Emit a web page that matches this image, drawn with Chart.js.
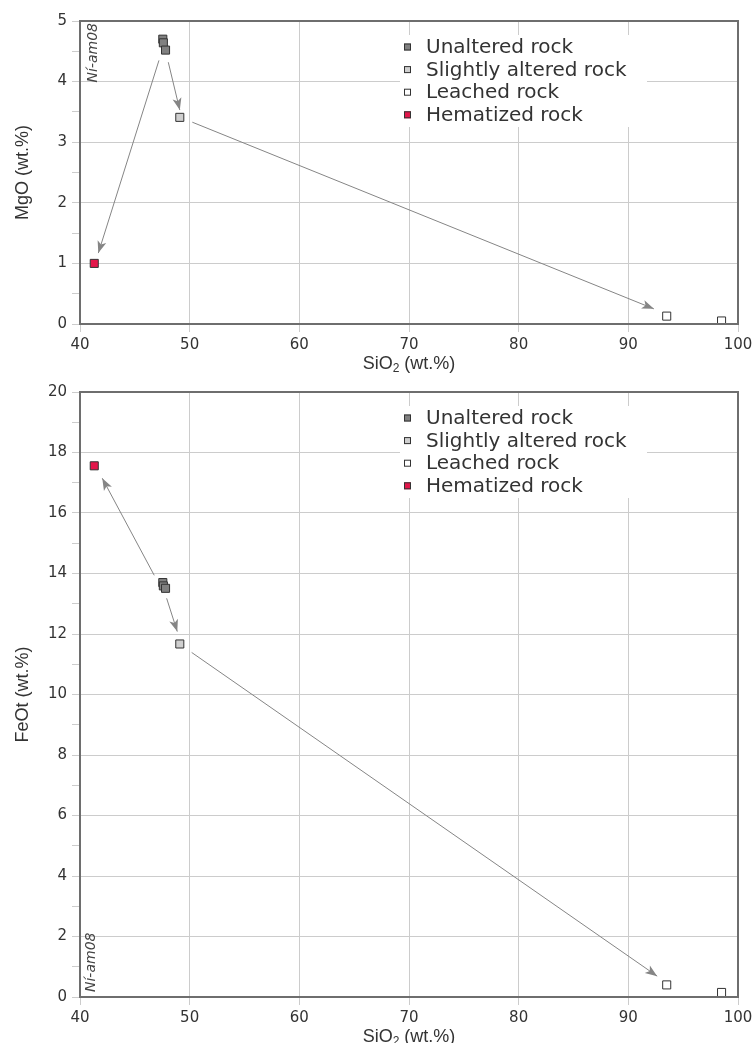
<!DOCTYPE html>
<html>
<head>
<meta charset="utf-8">
<title>MgO and FeOt vs SiO2</title>
<script src="https://cdn.jsdelivr.net/npm/chart.js@4.4.1/dist/chart.umd.min.js"></script>
<style>
  html, body { margin: 0; padding: 0; background: #fff; overflow: hidden; }
  canvas { display: block; }
</style>
</head>
<body>
<canvas id="mgoChart" width="753" height="380"></canvas>
<canvas id="feotChart" width="753" height="673"></canvas>
<script>
// SiO2 (wt.%) of each rock group, shared by both diagrams
const sio2Unaltered = [47.55, 47.6, 47.8];
const sio2Slightly = [49.1];
const sio2Leached = [93.5, 98.5];
const sio2Hematized = [41.3];

// MgO (wt.%)
const mgoUnaltered = [4.70, 4.64, 4.52];
const mgoSlightly = [3.41];
const mgoLeached = [0.13, 0.05];
const mgoHematized = [1.00];

// FeOt (wt.%)
const feotUnaltered = [13.70, 13.59, 13.51];
const feotSlightly = [11.67];
const feotLeached = [0.40, 0.15];
const feotHematized = [17.56];

// alteration arrows: [fromSiO2, fromValue, toSiO2, toValue]
const mgoArrows = [[47.2, 4.35, 41.67, 1.17], [48.05, 4.32, 49.1, 3.53], [50.24, 3.33, 92.33, 0.25]];
const feotArrows = [[46.77, 13.94, 42.03, 17.15], [47.9, 13.18, 48.87, 12.08], [50.18, 11.39, 92.63, 0.69]];

const rockLabels = ['Unaltered rock', 'Slightly altered rock', 'Leached rock', 'Hematized rock'];
const rockColors = ['#808080', '#cfcfcf', '#ffffff', '#e3164a'];
const sampleName = 'Ní-am08';

const gridGray = '#cccccc';
const frameGray = '#6e6e6e';
const textGray = '#333333';

function buildDatasets(yGroups, arrows) {
  const xGroups = [sio2Unaltered, sio2Slightly, sio2Leached, sio2Hematized];
  const sets = rockLabels.map((label, i) => ({
    label: label,
    data: xGroups[i].map((x, j) => ({ x: x, y: yGroups[i][j] })),
    pointStyle: 'rect',
    pointRadius: 5.7,
    pointHoverRadius: 5.7,
    backgroundColor: rockColors[i],
    borderColor: '#333',
    borderWidth: 1,
    order: 1,
  }));
  arrows.forEach((a) => {
    sets.push({
      label: '',
      isArrow: true,
      showLine: true,
      data: [{ x: a[0], y: a[1] }, { x: a[2], y: a[3] }],
      borderColor: '#858585',
      backgroundColor: '#858585',
      borderWidth: 1,
      pointRadius: 0,
      pointHoverRadius: 0,
      order: 2,
    });
  });
  return sets;
}

// filled arrow head at the end of each arrow dataset
const arrowHeads = {
  id: 'arrowHeads',
  afterDatasetsDraw(chart) {
    const ctx = chart.ctx;
    chart.data.datasets.forEach((ds, i) => {
      if (!ds.isArrow) return;
      const pts = chart.getDatasetMeta(i).data;
      const a = pts[0], b = pts[1];
      const ang = Math.atan2(b.y - a.y, b.x - a.x);
      ctx.save();
      ctx.translate(b.x, b.y);
      ctx.rotate(ang);
      ctx.beginPath();
      ctx.moveTo(0, 0);
      ctx.lineTo(-12, -4.5);
      ctx.lineTo(-9, 0);
      ctx.lineTo(-12, 4.5);
      ctx.closePath();
      ctx.fillStyle = ds.borderColor;
      ctx.fill();
      ctx.restore();
    });
  }
};

// frame, legend box, x title with subscript and sample label
const decorations = {
  id: 'decorations',
  afterDraw(chart, args, opts) {
    const ctx = chart.ctx;
    const area = chart.chartArea;

    ctx.save();
    ctx.strokeStyle = frameGray;
    ctx.lineWidth = 2;
    ctx.strokeRect(area.left, area.top, area.right - area.left, area.bottom - area.top);

    // legend
    const rows = chart.data.datasets.filter((ds) => !ds.isArrow);
    const top = area.top + 14;
    const rowH = 22.6;
    ctx.fillStyle = '#fff';
    ctx.fillRect(400, top, 247, rows.length * rowH + 1.6);
    ctx.font = '20px "DejaVu Sans"';
    ctx.textBaseline = 'middle';
    ctx.textAlign = 'left';
    rows.forEach((ds, i) => {
      const cy = top + 12 + i * rowH;
      ctx.fillStyle = ds.backgroundColor;
      ctx.fillRect(404, cy - 3.5, 7, 7);
      ctx.strokeStyle = '#333';
      ctx.lineWidth = 1;
      ctx.strokeRect(404.5, cy - 3, 6, 6);
      ctx.fillStyle = textGray;
      ctx.fillText(ds.label, 426, cy + 1);
    });

    // x title: SiO2 with a real subscript
    const big = '18px "Liberation Sans"';
    const small = '12px "Liberation Sans"';
    const parts = [['SiO', big, 0], ['2', small, 5], [' (wt.%)', big, 0]];
    let total = 0;
    parts.forEach((p) => { ctx.font = p[1]; total += ctx.measureText(p[0]).width; });
    let tx = (area.left + area.right) / 2 - total / 2;
    const ty = area.bottom + 40;
    ctx.fillStyle = textGray;
    ctx.textAlign = 'left';
    ctx.textBaseline = 'middle';
    parts.forEach((p) => {
      ctx.font = p[1];
      ctx.fillText(p[0], tx, ty + p[2]);
      tx += ctx.measureText(p[0]).width;
    });

    // sample name, written upwards
    ctx.font = 'italic 14px "DejaVu Sans"';
    ctx.fillStyle = '#444';
    ctx.textBaseline = 'middle';
    if (opts.corner === 'top') {
      ctx.translate(area.left + 13, area.top + 2);
      ctx.rotate(-Math.PI / 2);
      ctx.textAlign = 'right';
    } else {
      ctx.translate(area.left + 11, area.bottom - 5);
      ctx.rotate(-Math.PI / 2);
      ctx.textAlign = 'left';
    }
    ctx.fillText(opts.text, 0, 0);
    ctx.restore();
  }
};

function xAxis() {
  return {
    type: 'linear',
    min: 40,
    max: 100,
    ticks: { stepSize: 10, autoSkip: false, maxRotation: 0, padding: 4, color: textGray, font: { family: 'DejaVu Sans', size: 15 } },
    grid: { color: gridGray, tickColor: gridGray, tickLength: 8, lineWidth: 1 },
    border: { color: frameGray, width: 2 },
    title: { display: false },
    afterFit(s) { s.height = 56; s.paddingLeft = 0; s.paddingRight = 0; }
  };
}

function yAxis(max, step, majorEvery, title) {
  return {
    type: 'linear',
    min: 0,
    max: max,
    ticks: {
      stepSize: step,
      autoSkip: false,
      padding: 5,
      color: textGray,
      font: { family: 'DejaVu Sans', size: 15 },
      callback: (v) => (v % majorEvery === 0 ? v : ''),
    },
    grid: {
      color: (c) => (c.tick && c.tick.value % majorEvery === 0 ? gridGray : 'rgba(0,0,0,0)'),
      tickColor: gridGray,
      tickLength: 8,
      lineWidth: 1,
    },
    border: { color: frameGray, width: 2 },
    title: { display: true, text: title, color: textGray, font: { family: 'Liberation Sans', size: 18 }, padding: { top: 12, bottom: 0 } },
    afterFit(s) { s.width = 80; s.paddingTop = 0; s.paddingBottom = 0; }
  };
}

function makeChart(id, yGroups, arrows, yOpts, padTop, corner) {
  return new Chart(document.getElementById(id), {
    type: 'scatter',
    data: { datasets: buildDatasets(yGroups, arrows) },
    options: {
      responsive: false,
      animation: false,
      layout: { padding: { top: padTop, right: 15, bottom: 0, left: 0 } },
      scales: { x: xAxis(), y: yOpts },
      plugins: {
        legend: { display: false },
        tooltip: { enabled: false },
        decorations: { text: sampleName, corner: corner },
      },
      events: [],
    },
    plugins: [arrowHeads, decorations],
  });
}

makeChart('mgoChart',
  [mgoUnaltered, mgoSlightly, mgoLeached, mgoHematized],
  mgoArrows, yAxis(5, 0.5, 1, 'MgO (wt.%)'), 21, 'top');

makeChart('feotChart',
  [feotUnaltered, feotSlightly, feotLeached, feotHematized],
  feotArrows, yAxis(20, 1, 2, 'FeOt (wt.%)'), 12, 'bottom');
</script>
</body>
</html>
